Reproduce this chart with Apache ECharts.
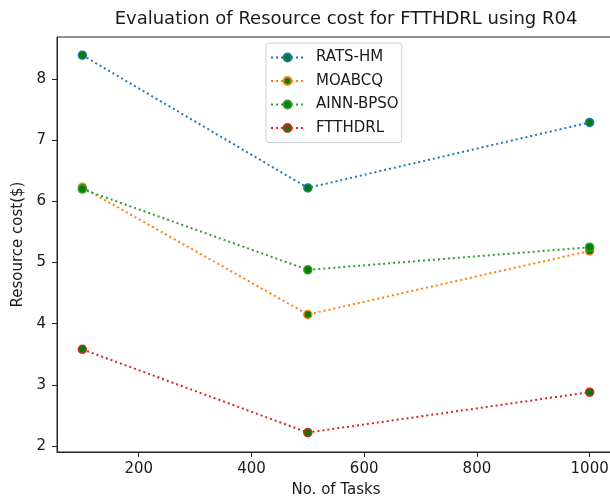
<!DOCTYPE html>
<html>
<head>
<meta charset="utf-8">
<title>Evaluation of Resource cost for FTTHDRL using R04</title>
<script src="https://cdn.jsdelivr.net/npm/echarts@6/dist/echarts.min.js"></script>
<style>
  html, body { margin: 0; padding: 0; background: #ffffff; }
  #chart { width: 610px; height: 501px; }
</style>
</head>
<body>
<div id="chart"></div>
<script>
// Number of tasks on the x axis
const tasks = [100, 500, 1000];

// Resource cost ($) per algorithm
const ratsHm = [8.39, 6.22, 7.29];
const moabcq = [6.23, 4.15, 5.19];
const ainnBpso = [6.20, 4.88, 5.25];
const ftthdrl = [3.58, 2.22, 2.88];

// Tick labels
const xTicks = [200, 400, 600, 800, 1000];
const yTicks = [2, 3, 4, 5, 6, 7, 8];

const FONT = 'DejaVu Sans';
const INK = '#1a1a1a';
const MARKER_FILL = '#008000';

function makeSeries(name, color, values) {
  return {
    name: name,
    type: 'line',
    data: tasks.map((t, i) => [t, values[i]]),
    symbol: 'circle',
    symbolSize: 8,
    itemStyle: { color: MARKER_FILL, borderColor: color, borderWidth: 1.5 },
    lineStyle: { color: color, width: 2, type: [2, 3], cap: 'butt' },
    emphasis: { disabled: true },
    z: 3
  };
}

const chart = echarts.init(document.getElementById('chart'), null, { renderer: 'canvas' });

chart.setOption({
  animation: false,
  backgroundColor: '#ffffff',
  title: {
    text: 'Evaluation of Resource cost for FTTHDRL using R04',
    left: 341,
    top: 5,
    textAlign: 'center',
    textStyle: { fontFamily: FONT, fontSize: 18, fontWeight: 'normal', color: INK }
  },
  legend: {
    orient: 'vertical',
    left: 266,
    top: 43,
    padding: [7, 3, 7, 4],
    itemWidth: 33,
    itemHeight: 10,
    itemGap: 8.5,
    backgroundColor: 'rgba(255,255,255,0.85)',
    borderColor: '#d0d0d0',
    borderWidth: 1,
    borderRadius: 3,
    textStyle: { fontFamily: FONT, fontSize: 15, color: INK, padding: [0, 0, 0, 7] },
    data: ['RATS-HM', 'MOABCQ', 'AINN-BPSO', 'FTTHDRL']
  },
  grid: {
    left: 57,
    top: 37,
    width: 558,
    bottom: 49,
    outerBoundsMode: 'none',
    containLabel: false,
    show: true,
    borderColor: '#222',
    borderWidth: 1,
    backgroundColor: 'transparent'
  },
  xAxis: {
    type: 'value',
    min: 55,
    max: 1045,
    name: 'No. of Tasks',
    nameLocation: 'middle',
    nameGap: 31,
    nameTextStyle: { fontFamily: FONT, fontSize: 15, color: INK },
    axisLine: { show: true, lineStyle: { color: '#222', width: 1 } },
    axisTick: { show: true, length: 5, lineStyle: { color: '#222' }, customValues: xTicks },
    axisLabel: {
      fontFamily: FONT, fontSize: 15, color: INK, margin: 10,
      customValues: xTicks, formatter: v => String(v)
    },
    splitLine: { show: false }
  },
  yAxis: {
    type: 'value',
    min: 1.902,
    max: 8.687,
    name: 'Resource cost($)',
    nameLocation: 'middle',
    nameGap: 28,
    nameRotate: 90,
    nameTextStyle: { fontFamily: FONT, fontSize: 15, color: INK },
    axisLine: { show: true, lineStyle: { color: '#222', width: 1 } },
    axisTick: { show: true, length: 5, lineStyle: { color: '#222' }, customValues: yTicks },
    axisLabel: {
      fontFamily: FONT, fontSize: 15, color: INK, margin: 11,
      customValues: yTicks, formatter: v => String(v)
    },
    splitLine: { show: false }
  },
  series: [
    makeSeries('RATS-HM', '#1f77b4', ratsHm),
    makeSeries('MOABCQ', '#ff7f0e', moabcq),
    makeSeries('AINN-BPSO', '#2ca02c', ainnBpso),
    makeSeries('FTTHDRL', '#d62728', ftthdrl)
  ]
});
</script>
</body>
</html>
